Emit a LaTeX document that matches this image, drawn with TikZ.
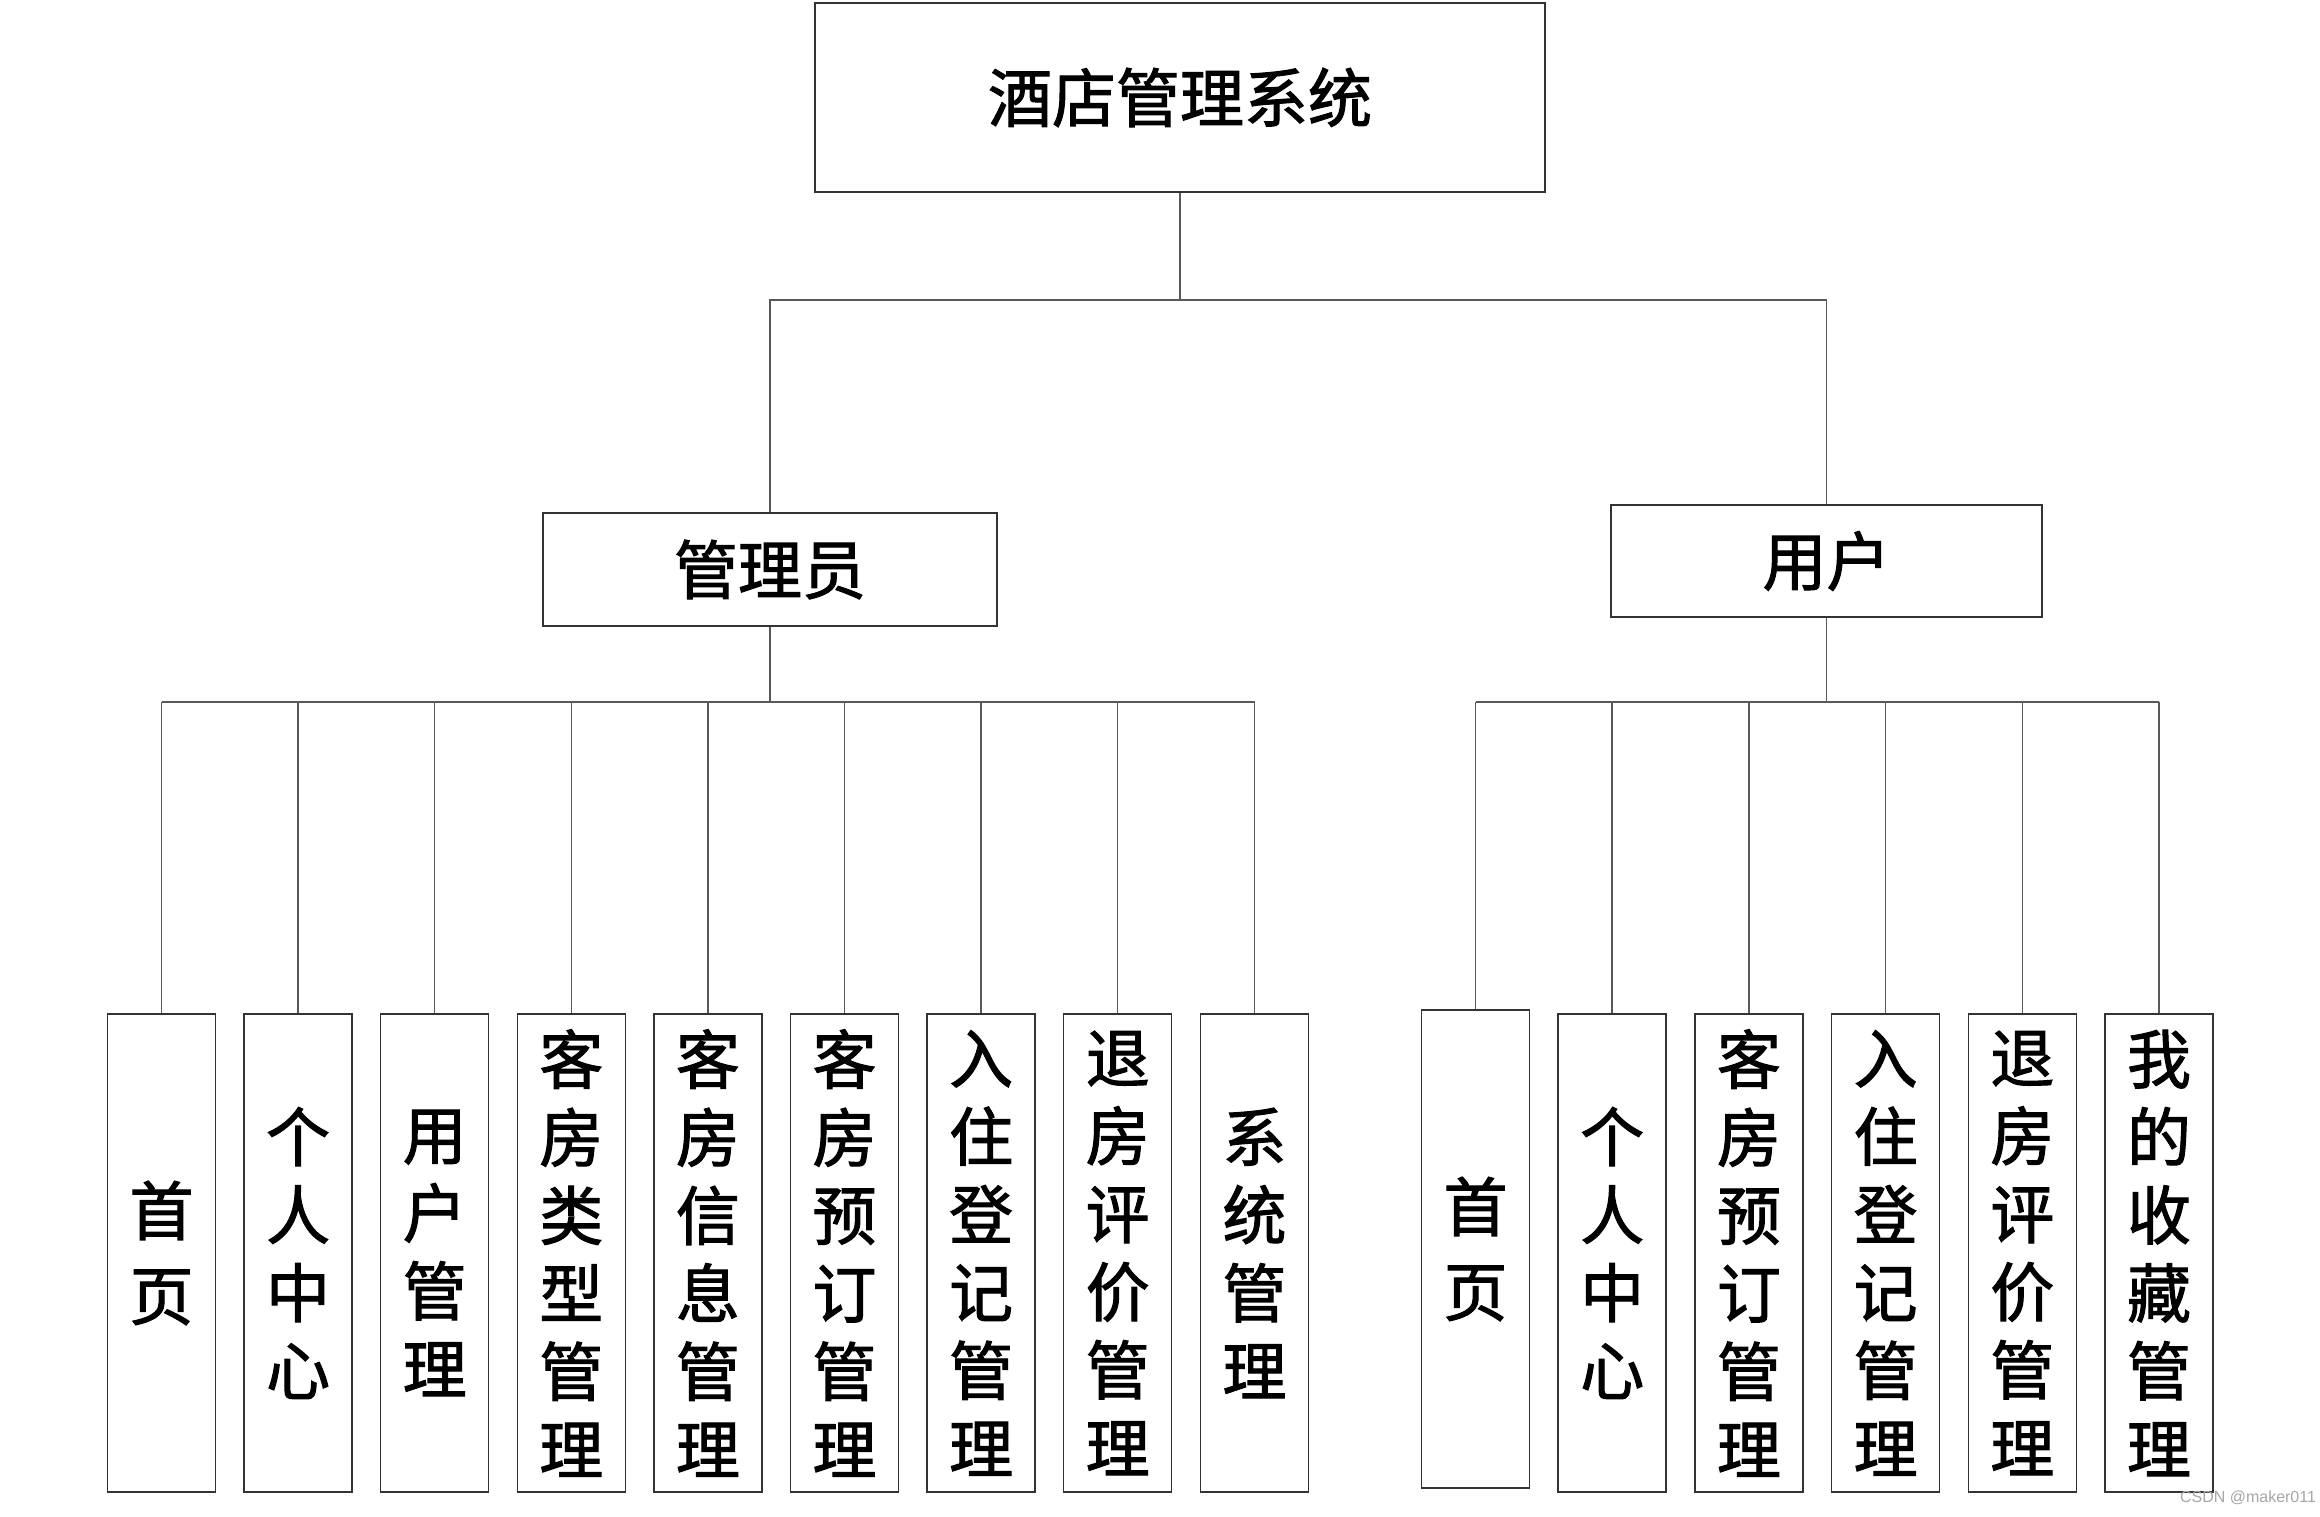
\documentclass[tikz,border=0pt]{standalone}
\usepackage{fontspec}
\newfontfamily\cjk{Noto Sans CJK SC}[FakeBold=1.6]
\newfontfamily\wmfont{Liberation Sans}
\begin{document}
\begin{tikzpicture}[x=1pt,y=-1pt,
  box/.style={draw=black!80, line width=1.5pt, fill=white, inner sep=0pt},
  conn/.style={draw=black!65, line width=1.5pt},
  toptxt/.style={font=\cjk\fontsize{64}{78}\selectfont},
  leaf/.style={box, minimum width=108pt, minimum height=478pt, text width=100pt, align=center,
    font=\cjk\fontsize{64}{78}\selectfont}]
\useasboundingbox (0,0) rectangle (2320,1517);
\fill[white] (0,0) rectangle (2320,1517);

% root and second level
\node[box, toptxt, minimum width=730pt, minimum height=189pt] (root) at (1180,97.5) {酒店管理系统};
\node[box, toptxt, minimum width=454pt, minimum height=113pt] (admin) at (770,569.5) {管理员};
\node[box, toptxt, minimum width=431pt, minimum height=112pt] (user) at (1826.5,561) {用户};

\coordinate (tb) at (1180,300);
\coordinate (ab) at (770,702);
\coordinate (ub) at (1826.5,702);

% admin leaves
\node[leaf, font=\cjk\fontsize{64}{85}\selectfont] (a1) at (161.5,1253) {首\\页};
\node[leaf] (a2) at (298.1,1253) {个\\人\\中\\心};
\node[leaf] (a3) at (434.7,1253) {用\\户\\管\\理};
\node[leaf] (a4) at (571.3,1253) {客\\房\\类\\型\\管\\理};
\node[leaf] (a5) at (707.9,1253) {客\\房\\信\\息\\管\\理};
\node[leaf] (a6) at (844.5,1253) {客\\房\\预\\订\\管\\理};
\node[leaf] (a7) at (981.1,1253) {入\\住\\登\\记\\管\\理};
\node[leaf] (a8) at (1117.7,1253) {退\\房\\评\\价\\管\\理};
\node[leaf] (a9) at (1254.5,1253) {系\\统\\管\\理};

% user leaves
\node[leaf, font=\cjk\fontsize{64}{85}\selectfont] (u1) at (1475.5,1249) {首\\页};
\node[leaf] (u2) at (1612.2,1253) {个\\人\\中\\心};
\node[leaf] (u3) at (1748.9,1253) {客\\房\\预\\订\\管\\理};
\node[leaf] (u4) at (1885.6,1253) {入\\住\\登\\记\\管\\理};
\node[leaf] (u5) at (2022.3,1253) {退\\房\\评\\价\\管\\理};
\node[leaf] (u6) at (2159,1253) {我\\的\\收\\藏\\管\\理};

% connectors
\draw[conn] (root.south) -- (tb);
\draw[conn] (admin.north) -- (admin.north |- tb) -- (user.north |- tb) -- (user.north);
\draw[conn] (admin.south) -- (ab);
\draw[conn] (user.south) -- (ub);
\draw[conn] (a1.north |- ab) -- (a9.north |- ab);
\draw[conn] (u1.north |- ub) -- (u6.north |- ub);
\foreach \n in {a1,a2,a3,a4,a5,a6,a7,a8,a9} {\draw[conn] (\n.north) -- (\n.north |- ab);}
\foreach \n in {u1,u2,u3,u4,u5,u6} {\draw[conn] (\n.north) -- (\n.north |- ub);}

\node[font=\wmfont\fontsize{16}{16}\selectfont, text=black!35] (wm) at (2248,1498) {CSDN @maker011};
\end{tikzpicture}
\end{document}
